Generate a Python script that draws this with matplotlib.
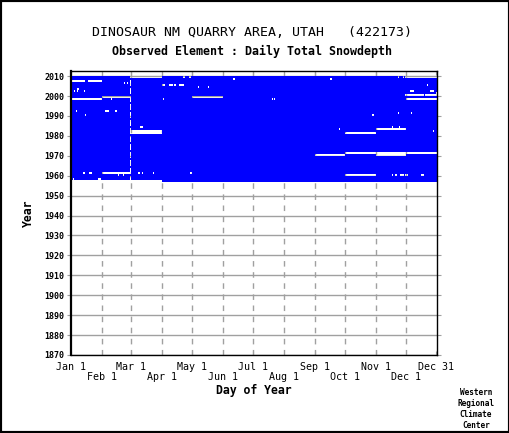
import calendar
import matplotlib
matplotlib.use('Agg')
import matplotlib.pyplot as plt
from matplotlib.patches import Rectangle

# day-of-year positions on a 366-day calendar
month_pos = [0, 31, 60, 91, 121, 152, 182, 213, 244, 274, 305, 335, 365]
month_lab = ['Jan 1', 'Feb 1', 'Mar 1', 'Apr 1', 'May 1', 'Jun 1', 'Jul 1',
             'Aug 1', 'Sep 1', 'Oct 1', 'Nov 1', 'Dec 1', 'Dec 31']

first_year = 1957
last_year = 2009
first_day_1957 = 91   # record starts Apr 1 1957

# missing-data gaps: year, first day, end day
gap_year = [2009, 2009, 2009, 2009, 2009, 2009,
            2008, 2008,
            2007, 2007,
            2006, 2006,
            2005, 2005, 2005, 2005, 2005,
            2004, 2004,
            2003,
            2002, 2002, 2002, 2002, 2002,
            2001,
            2000, 2000,
            1999, 1999,
            1998, 1998, 1998, 1998, 1998, 1998,
            1992, 1992, 1992,
            1991, 1991, 1991,
            1990, 1990,
            1984, 1984, 1984,
            1983, 1983,
            1982, 1982,
            1981, 1981,
            1971,
            1970, 1970,
            1961, 1961, 1961, 1961, 1961, 1961, 1961,
            1960, 1960, 1960, 1960, 1960, 1960, 1960, 1960,
            1958, 1958]
gap_start = [59, 112, 118, 327, 332, 334,
             162, 259,
             0, 17,
             53, 56,
             91, 98, 103, 108, 356,
             127, 137,
             6,
             3, 6, 13, 339, 359,
             365,
             334, 354,
             31, 121,
             0, 40, 92, 201, 203, 335,
             5, 34, 44,
             0, 327, 340,
             14, 301,
             69, 321, 328,
             268, 305,
             59, 362,
             59, 274,
             274,
             244, 305,
             12, 18, 31, 67, 71, 82, 119,
             47, 52, 274, 321, 324, 329, 334, 350,
             2, 27]
gap_end = [91, 114, 120, 328, 333, 366,
           164, 261,
           14, 31,
           54, 57,
           94, 102, 105, 113, 357,
           128, 138,
           8,
           4, 7, 14, 343, 363,
           366,
           353, 366,
           59, 152,
           31, 41, 93, 202, 204, 366,
           6, 38, 46,
           1, 328, 341,
           15, 303,
           72, 322, 329,
           269, 335,
           91, 363,
           91, 305,
           366,
           274, 335,
           14, 21, 59, 69, 72, 83, 121,
           48, 53, 305, 322, 326, 333, 337, 353,
           3, 30]

fig = plt.figure(figsize=(5.10, 4.33), dpi=100)
ax = fig.add_axes([71 / 510, 78 / 433, 366 / 510, 284.3 / 433])

blue = '#0000FF'
grey = '#A0A0A0'

for yr in range(first_year, last_year + 1):
    start = first_day_1957 if yr == first_year else 0
    gaps = [(s, e) for y, s, e in zip(gap_year, gap_start, gap_end) if y == yr]
    if not calendar.isleap(yr):
        gaps.append((59, 60))
    gaps.sort()
    spans = []
    pos = start
    for s, e in gaps:
        if s > pos:
            spans.append((pos, s - pos))
        pos = max(pos, e)
    if pos < 366:
        spans.append((pos, 366 - pos))
    ax.broken_barh(spans, (yr, 1), facecolors=blue, edgecolor='none',
                   antialiased=False, zorder=2)

ax.set_xlim(0, 366)
ax.set_ylim(1870, 2012.7)

# grid
ax.set_yticks(range(1870, 2011, 10))
ax.grid(axis='y', color=grey, linewidth=1, zorder=0)
ax.set_axisbelow(True)
ax.vlines(month_pos[1:-1], 1870, 2012.7, colors=grey, linestyles=(0, (4, 4)),
          linewidth=1, zorder=1)

mono = 'DejaVu Sans Mono'
ax.tick_params(axis='y', which='both', left=True, right=True, direction='out',
               length=3, color=grey, labelsize=6, pad=2)
for lab in ax.get_yticklabels():
    lab.set_family(mono)
    lab.set_fontweight('bold')

# two rows of month labels
ax.set_xticks(month_pos[0::2])
ax.set_xticklabels(month_lab[0::2], family=mono, fontsize=7.2)
ax.set_xticks(month_pos[1::2], minor=True)
ax.set_xticklabels(month_lab[1::2], minor=True, family=mono, fontsize=7.2)
ax.tick_params(axis='x', which='major', bottom=True, top=True, direction='in',
               length=3, color=grey, pad=5)
ax.tick_params(axis='x', which='minor', bottom=True, top=True, direction='in',
               length=3, color=grey, pad=12)

for side in ['top', 'right', 'bottom']:
    ax.spines[side].set_linewidth(1.0)
ax.spines['left'].set_linewidth(1.6)

ax.set_xlabel('Day of Year', family=mono, fontweight='bold', fontsize=8.3,
              labelpad=2)
fig.text(0.055, 0.508, 'Year', family=mono, fontweight='bold', fontsize=8.3,
         rotation=90, ha='center', va='center')

fig.text(0.495, 0.924, 'DINOSAUR NM QUARRY AREA, UTAH   (422173)',
         family=mono, fontsize=9.5, ha='center', va='center')
fig.text(0.495, 0.881, 'Observed Element : Daily Total Snowdepth',
         family=mono, fontweight='bold', fontsize=8.4, ha='center', va='center')

fig.text(0.933, 0.0554, 'Western\nRegional\nClimate\nCenter', family=mono,
         fontweight='bold', fontsize=5.6, ha='center', va='center',
         linespacing=1.25)

fig.patches.append(Rectangle((0, 0), 1, 1, transform=fig.transFigure,
                             fill=False, edgecolor='black', linewidth=3))

fig.savefig('out.png', dpi=100)
